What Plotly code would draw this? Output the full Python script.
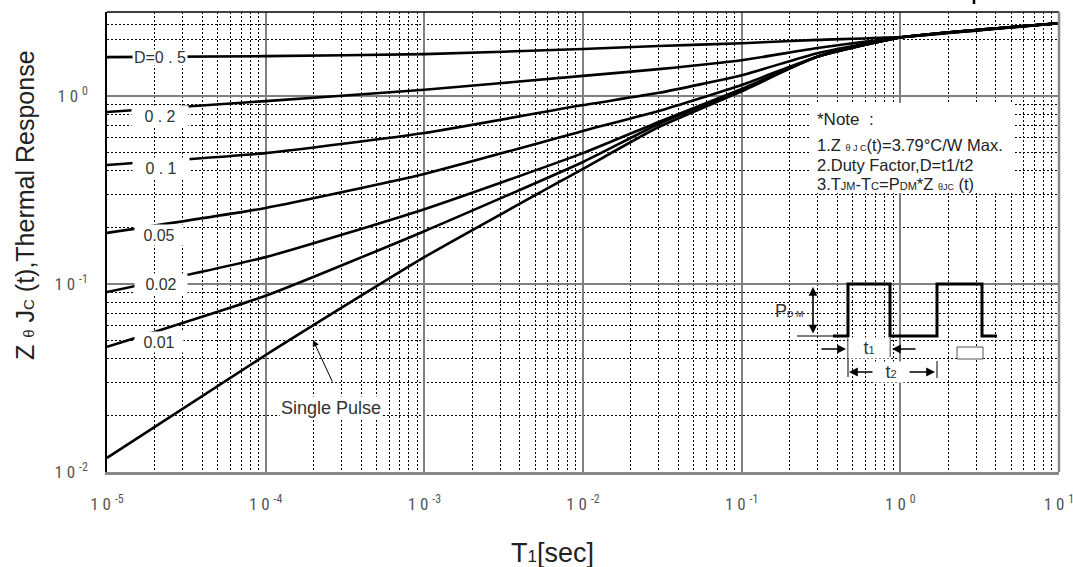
import plotly.graph_objects as go

# ---------------- data ----------------
t_sec = [1e-5, 1e-4, 1e-3, 1e-2, 3e-2, 1e-1, 3e-1, 1, 10]
z_d050 = [1.61, 1.63, 1.67, 1.78, 1.845, 1.91, 1.99, 2.06, 2.44]
z_d020 = [0.822, 0.94, 1.08, 1.28, 1.39, 1.55, 1.80, 2.05, 2.44]
z_d010 = [0.43, 0.497, 0.636, 0.895, 1.04, 1.29, 1.69, 2.05, 2.44]
z_d005 = [0.187, 0.254, 0.385, 0.652, 0.832, 1.146, 1.62, 2.05, 2.44]
z_d002 = [0.0906, 0.139, 0.25, 0.497, 0.728, 1.09, 1.62, 2.05, 2.44]
z_d001 = [0.0463, 0.0866, 0.191, 0.446, 0.71, 1.08, 1.62, 2.05, 2.44]
z_single = [0.0119, 0.0419, 0.139, 0.41, 0.684, 1.06, 1.62, 2.05, 2.44]

series = [z_d050, z_d020, z_d010, z_d005, z_d002, z_d001, z_single]
series_names = ["D=0.5", "D=0.2", "D=0.1", "D=0.05", "D=0.02", "D=0.01", "Single Pulse"]
curve_labels = ["D=0 . 5", "0 . 2", "0 . 1", "0.05", "0.02", "0.01"]

x_tick_vals = [1e-5, 1e-4, 1e-3, 1e-2, 1e-1, 1, 10]
x_tick_text = ["1 0 <sup>-5</sup>", "1 0 <sup>-4</sup>", "1 0 <sup>-3</sup>", "1 0 <sup>-2</sup>",
               "1 0 <sup>-1</sup>", "1 0 <sup>0</sup>", "1 0 <sup>1</sup>"]
y_tick_vals = [0.01, 0.1, 1]
y_tick_text = ["1 0 <sup>-2</sup>", "1 0 <sup>-1</sup>", "1 0 <sup>0</sup>"]

x_minor = [m * 10.0 ** k for k in range(-5, 1) for m in range(2, 10)]
y_minor = [m * 10.0 ** k for k in (-2, -1) for m in range(2, 10)] + [2.0, 2.4]

# ---------------- geometry helpers (layout placement only) ----------------
W, H = 1073, 567
PL, PR, PT, PB = 107, 1059, 12, 472
XMIN, XMAX = -5.0, 1.0
YMIN, YMAX = -2.0, 0.447


def lx(px):
    return XMIN + (px - PL) / (PR - PL) * (XMAX - XMIN)


def ly(py):
    return YMIN + (PB - py) / (PB - PT) * (YMAX - YMIN)


def ppx(px):
    return (px - PL) / (PR - PL)


def ppy(py):
    return (PB - py) / (PB - PT)


FONT = "Liberation Sans Narrow, Roboto Condensed, Arial Narrow, Liberation Sans, Arial, sans-serif"
FONT2 = "Liberation Sans, Arial, sans-serif"

fig = go.Figure()
for name, ys in zip(series_names, series):
    fig.add_trace(go.Scatter(x=t_sec, y=ys, mode="lines", name=name,
                             line=dict(color="black", width=2.6, shape="spline", smoothing=0.5),
                             showlegend=False, hoverinfo="skip"))

annotations = []
# curve labels on white patches
label_pos = [(160, 57, 54, 15), (160, 116, 56, 20), (161, 168, 56, 20),
             (159, 235, 48, 20), (161, 284, 52, 20), (159, 342, 48, 20)]
for txt, (cx, cy, w, h) in zip(curve_labels, label_pos):
    annotations.append(dict(x=lx(cx), y=ly(cy), xref="x", yref="y", text=txt,
                            xanchor="center", yanchor="middle",
                            showarrow=False, bgcolor="white", width=w, height=h,
                            borderpad=0, font=dict(family=FONT2, size=16, color="#333")))

annotations.append(dict(x=lx(331), y=ly(408), xref="x", yref="y", text="Single Pulse",
                        xanchor="center", yanchor="middle",
                        showarrow=False, bgcolor="white",
                        font=dict(family=FONT2, size=18, color="#333")))
annotations.append(dict(x=lx(313), y=ly(340), xref="x", yref="y", text="",
                        showarrow=True, ax=20, ay=43, arrowhead=2, arrowsize=1.3,
                        arrowwidth=1, arrowcolor="black"))

# note box text
note_lines = [
    ("*Note  :", 120, 17),
    ("1.Z <span style='font-size:9px'>θ J C</span>(t)=3.79°C/W Max.", 145, 16.5),
    ("2.Duty Factor,D=t1/t2", 165, 16.5),
    ("3.T<span style='font-size:11px'>JM</span>-T<span style='font-size:11px'>C</span>=P<span style='font-size:11px'>DM</span>*Z <span style='font-size:9px'>θJC</span> (t)", 184, 16.5),
]
for txt, py, fs in note_lines:
    annotations.append(dict(x=ppx(815), y=ppy(py), xref="paper", yref="paper", text=txt,
                            xanchor="left", yanchor="middle", showarrow=False,
                            font=dict(family=FONT2, size=fs, color="#222")))

# pulse inset texts
annotations.append(dict(x=ppx(806), y=ppy(311), xref="paper", yref="paper",
                        text="P<span style='font-size:9px'>D M</span>", xanchor="right", yanchor="middle",
                        showarrow=False, font=dict(family=FONT2, size=18, color="#333")))
annotations.append(dict(x=ppx(869), y=ppy(348), xref="paper", yref="paper",
                        text="t<span style='font-size:11px'>1</span>", bgcolor="white", width=38, height=18,
                        xanchor="center", yanchor="middle",
                        showarrow=False, font=dict(family=FONT2, size=18, color="#333")))
annotations.append(dict(x=ppx(891), y=ppy(372), xref="paper", yref="paper",
                        text="t<span style='font-size:11px'>2</span>", bgcolor="white", width=30, height=18,
                        xanchor="center", yanchor="middle",
                        showarrow=False, font=dict(family=FONT2, size=18, color="#333")))
# arrows of inset
arrow_common = dict(xref="paper", yref="paper", axref="pixel", ayref="pixel", text="",
                    showarrow=True, arrowhead=2, arrowsize=1.1, arrowwidth=1.6, arrowcolor="black")
annotations.append(dict(x=ppx(813), y=ppy(287), ax=0, ay=48, arrowside="end+start", **arrow_common))
annotations.append(dict(x=ppx(846), y=ppy(349), ax=-26, ay=0, **arrow_common))
annotations.append(dict(x=ppx(892), y=ppy(349), ax=25, ay=0, **arrow_common))
annotations.append(dict(x=ppx(849), y=ppy(372), ax=25, ay=0, **arrow_common))
annotations.append(dict(x=ppx(935), y=ppy(372), ax=-27, ay=0, **arrow_common))

# axis titles
annotations.append(dict(x=ppx(552), y=ppy(553), xref="paper", yref="paper",
                        xanchor="center", yanchor="middle",
                        text="T<span style='font-size:17px'>1</span>[sec]", showarrow=False,
                        font=dict(family=FONT2, size=27, color="#222")))
annotations.append(dict(x=ppx(25), y=ppy(205), xref="paper", yref="paper", textangle=-90,
                        xanchor="center", yanchor="middle",
                        text="Z <span style='font-size:15px'>θ</span> J<span style='font-size:15px'>C</span> (t),Thermal Response",
                        showarrow=False, font=dict(family=FONT2, size=25, color="#222")))

shapes = []
# frame: top black, right gray
shapes.append(dict(type="line", xref="paper", yref="paper", x0=0, x1=1, y0=1, y1=1,
                   line=dict(color="black", width=1.5), layer="above"))
shapes.append(dict(type="line", xref="paper", yref="paper", x0=1, x1=1, y0=0, y1=1,
                   line=dict(color="#888", width=2.5), layer="above"))
# note box background
shapes.append(dict(type="rect", xref="paper", yref="paper", x0=ppx(810), x1=ppx(1013),
                   y0=ppy(193), y1=ppy(103), fillcolor="white", line=dict(width=0), layer="above"))
# pulse waveform
pulse_px = [(833, 336), (848, 336), (848, 284), (890, 284), (890, 336), (937, 336),
            (937, 284), (982, 284), (982, 336), (997, 336)]
path = "M " + " L ".join(f"{ppx(a):.5f},{ppy(b):.5f}" for a, b in pulse_px)
shapes.append(dict(type="path", xref="paper", yref="paper", path=path,
                   line=dict(color="black", width=3), layer="above"))
shapes.append(dict(type="line", xref="paper", yref="paper", x0=ppx(797), x1=ppx(833),
                   y0=ppy(336), y1=ppy(336), line=dict(color="black", width=1), layer="above"))
for xa, ya, yb in [(848, 338, 377), (890, 338, 357), (937, 361, 378)]:
    shapes.append(dict(type="line", xref="paper", yref="paper", x0=ppx(xa), x1=ppx(xa),
                       y0=ppy(ya), y1=ppy(yb), line=dict(color="black", width=1), layer="above"))
shapes.append(dict(type="rect", xref="paper", yref="paper", x0=ppx(957), x1=ppx(983),
                   y0=ppy(359), y1=ppy(347), fillcolor="white",
                   line=dict(color="#555", width=1), layer="above"))
# small mark at the very top (cut-off glyph)
shapes.append(dict(type="line", xref="paper", yref="paper", x0=ppx(974), x1=ppx(974),
                   y0=ppy(0), y1=ppy(4), line=dict(color="black", width=2.5), layer="above"))

fig.update_layout(
    width=W, height=H,
    margin=dict(l=PL, r=W - PR, t=PT, b=H - PB, pad=0, autoexpand=False),
    paper_bgcolor="white", plot_bgcolor="white",
    annotations=annotations, shapes=shapes,
    xaxis=dict(type="log", range=[XMIN, XMAX], tickvals=x_tick_vals, ticktext=x_tick_text,
               showline=True, linecolor="#888", linewidth=2.5, ticks="", ticklabelstandoff=15,
               ticklabeloverflow="allow", automargin=False,
               tickfont=dict(family=FONT, size=17, color="#555"),
               showgrid=True, gridcolor="#808080", gridwidth=1.5, zeroline=False,
               minor=dict(tickvals=x_minor, showgrid=True, gridcolor="black", gridwidth=1,
                          griddash="2px,2px", ticks="")),
    yaxis=dict(type="log", range=[YMIN, YMAX], tickvals=y_tick_vals, ticktext=y_tick_text,
               showline=True, linecolor="black", linewidth=1.5, ticks="", ticklabelstandoff=14,
               ticklabeloverflow="allow", automargin=False,
               tickfont=dict(family=FONT, size=17, color="#555"),
               showgrid=True, gridcolor="#808080", gridwidth=1.5, zeroline=False,
               minor=dict(tickvals=y_minor, showgrid=True, gridcolor="black", gridwidth=1,
                          griddash="2px,2px", ticks="")),
)

fig.write_html("out.html", config={"displayModeBar": False},
               post_script="document.body.style.margin='0px';")
